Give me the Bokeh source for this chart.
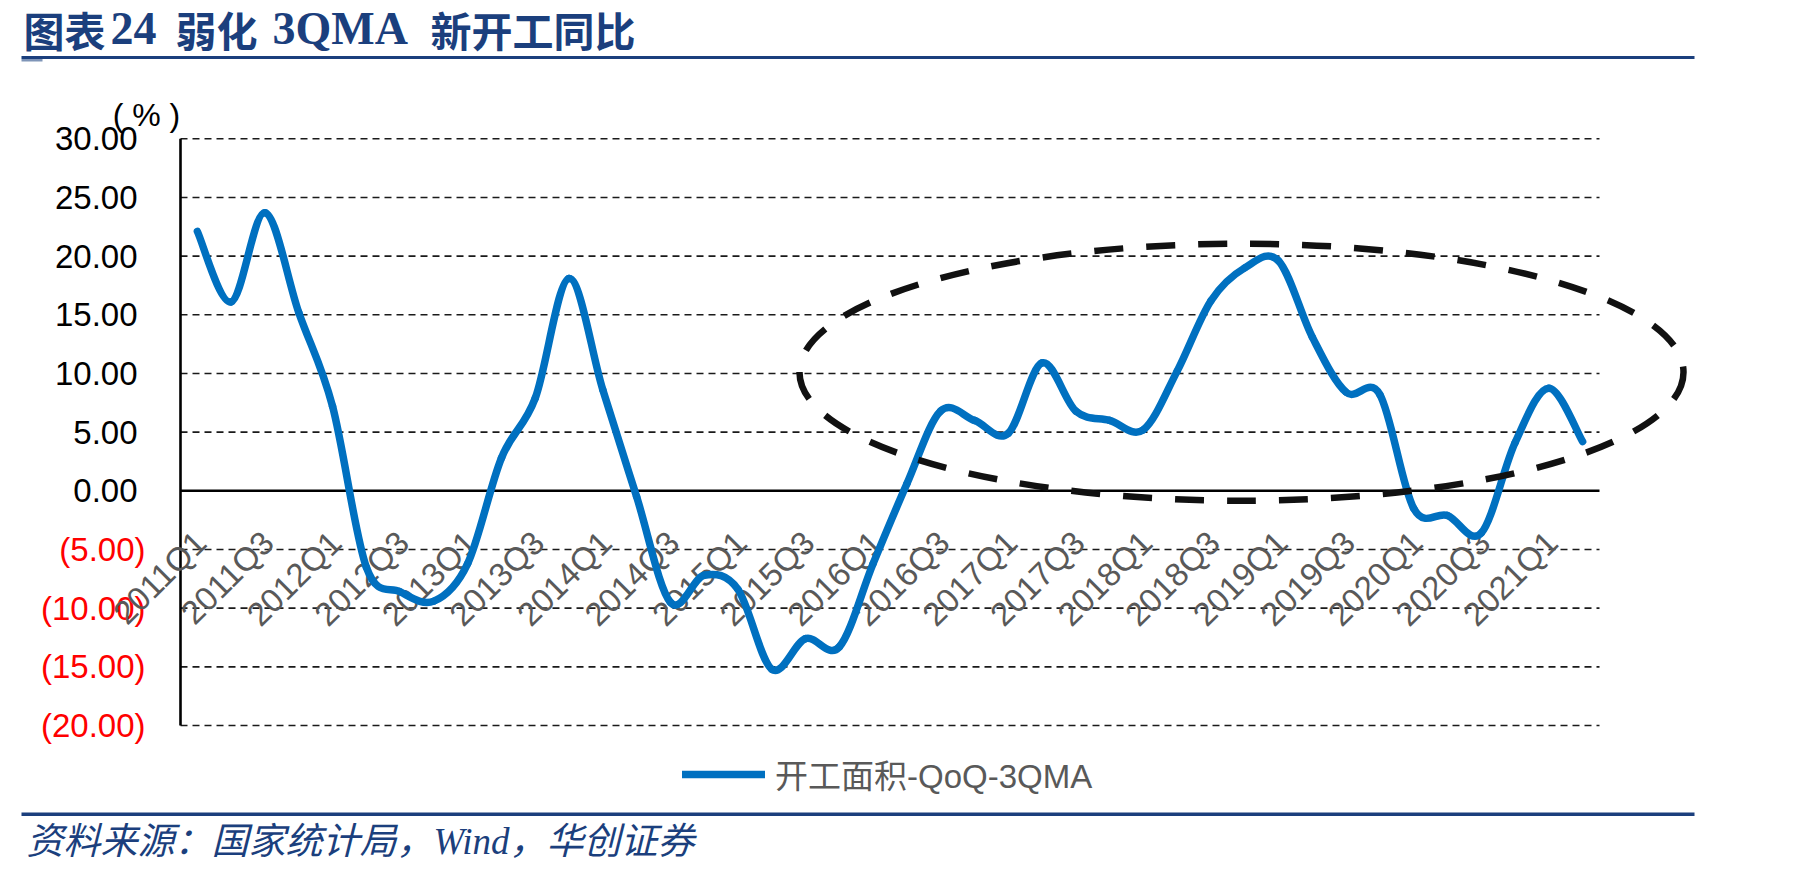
import math
import numpy as np
from bokeh.plotting import figure
from bokeh.models import Range1d, Legend, LegendItem, BoxAnnotation, Label
from bokeh.core.properties import value
from bokeh.embed import file_html
from bokeh.resources import INLINE

# ---------------- data ----------------
quarters = [f"{yr}Q{q}" for yr in range(2011, 2022) for q in (1, 2, 3, 4)][:42]

# 新开工面积 同比（季度移动平均, %）
start_area_qoq_3qma = [
    22.1, 16.1, 23.7, 15.2, 7.2, -6.5, -8.6, -9.4,
    -6.2, 2.8, 7.9, 18.1, 8.6, -0.5, -9.5, -7.2,
    -8.4, -15.2, -12.6, -13.3, -6.2, 0.6, 6.8, 6.0,
    4.9, 10.9, 6.8, 6.0, 5.2, 10.2, 16.2, 19.0,
    19.6, 13.1, 8.4, 8.2, -1.5, -2.1, -3.6, 4.1,
    8.75, 4.2,
]
series_name = "开工面积-QoQ-3QMA"
y_ticks = [30, 25, 20, 15, 10, 5, 0, -5, -10, -15, -20]

# title pieces: (text, left x in px, is latin)
title_parts = [("图表", 23, False), ("24", 110, True), ("弱化", 175, False),
               ("3QMA", 272, True), ("新开工同比", 430, False)]
source_text = "资料来源：国家统计局，Wind，华创证券"
unit_text = "( % )"

# ---------------- layout (pixels) ----------------
W, H = 1801, 873
PLOT_L, PLOT_R = 180, 1599
PLOT_T, PLOT_B = 138.3, 725
Y_MIN, Y_MAX = -20, 30
NAVY = "#1B3F7D"
BLUE = "#0070C0"

n = len(quarters)
x_lo, x_hi = -0.5, n - 0.5
sx = (PLOT_R - PLOT_L) / (x_hi - x_lo)
sy = (PLOT_B - PLOT_T) / (Y_MAX - Y_MIN)

x_range = Range1d(x_lo - PLOT_L / sx, x_hi + (W - PLOT_R) / sx)
y_range = Range1d(Y_MIN - (H - PLOT_B) / sy, Y_MAX + PLOT_T / sy)


def px_x(px):
    return x_lo + (px - PLOT_L) / sx


def px_y(py):
    return Y_MAX - (py - PLOT_T) / sy


p = figure(width=W, height=H, x_range=x_range, y_range=y_range,
           x_axis_location=None, y_axis_location=None,
           toolbar_location=None, output_backend="svg", min_border=0,
           outline_line_color=None, background_fill_color="white",
           border_fill_color="white")
p.xgrid.visible = False
p.ygrid.visible = False

# ---------------- grid & axes ----------------
grid_vals = [t for t in y_ticks if t != 0]
p.segment(x0=x_lo, x1=x_hi, y0=grid_vals, y1=grid_vals,
          line_color="#1a1a1a", line_width=1.6, line_dash="7 5")
p.segment(x0=x_lo, x1=x_hi, y0=0, y1=0, line_color="black", line_width=2.6)
p.segment(x0=x_lo, x1=x_lo, y0=Y_MIN, y1=Y_MAX, line_color="black", line_width=2.6)


def fmt(v):
    return f"{v:.2f}" if v >= 0 else f"({abs(v):.2f})"


pos_ticks = [t for t in y_ticks if t >= 0]
neg_ticks = [t for t in y_ticks if t < 0]
p.text(x=px_x(PLOT_L - 43), y=pos_ticks, text=[fmt(t) for t in pos_ticks],
       text_align="right", text_baseline="middle",
       text_font=value("Liberation Sans"), text_font_size="33px", text_color="black")
p.text(x=px_x(PLOT_L - 35), y=neg_ticks, text=[fmt(t) for t in neg_ticks],
       text_align="right", text_baseline="middle",
       text_font=value("Liberation Sans"), text_font_size="33px", text_color="#FF0000")

# category labels every other quarter, hanging below the zero line
lab_idx = list(range(0, n, 2))
p.text(x=[i + 3 / sx for i in lab_idx], y=-46 / sy, text=[quarters[i] for i in lab_idx],
       angle=math.pi / 4, text_align="right", text_baseline="middle",
       text_font=value("Liberation Sans"), text_font_size="33px", text_color="#595959")

# ---------------- smoothed series (Bezier through each point) ----------------
xs = np.arange(n, dtype=float)
ys = np.array(start_area_qoq_3qma, dtype=float)
xp = np.concatenate([[xs[0]], xs, [xs[-1]]])
yp = np.concatenate([[ys[0]], ys, [ys[-1]]])
P0x, P1x, P2x, P3x = xp[0:n - 1], xp[1:n], xp[2:n + 1], xp[3:n + 2]
P0y, P1y, P2y, P3y = yp[0:n - 1], yp[1:n], yp[2:n + 1], yp[3:n + 2]
line_r = p.bezier(x0=P1x, y0=P1y, x1=P2x, y1=P2y,
                  cx0=P1x + (P2x - P0x) / 6, cy0=P1y + (P2y - P0y) / 6,
                  cx1=P2x - (P3x - P1x) / 6, cy1=P2y - (P3y - P1y) / 6,
                  line_color=BLUE, line_width=7.5, line_cap="round", line_join="round")

# ---------------- highlight ellipse ----------------
ELL_CX, ELL_CY, ELL_W, ELL_H = 1241, 371.7, 884, 257
p.ellipse(x=px_x(ELL_CX), y=px_y(ELL_CY), width=ELL_W / sx, height=ELL_H / sy,
          fill_color=None, line_color="#111111", line_width=6.5, line_dash="29 23")

# ---------------- legend ----------------
legend = Legend(items=[LegendItem(label=series_name, renderers=[line_r])],
                location=(682, 75), orientation="horizontal",
                margin=0, padding=0, spacing=0,
                glyph_width=83, glyph_height=36, label_height=36, label_standoff=10,
                label_text_font="Liberation Sans, Noto Sans CJK SC",
                label_text_font_size="33px", label_text_color="#595959",
                border_line_color=None, background_fill_alpha=0)
p.add_layout(legend)

# ---------------- title, rules, source ----------------
for txt, left, latin in title_parts:
    p.add_layout(Label(x=px_x(left), y=px_y(28), text=txt,
                       text_font="Liberation Serif" if latin else "Noto Sans CJK SC",
                       text_font_size="46px" if latin else "41px",
                       text_font_style="bold", text_color=NAVY, text_baseline="middle"))
p.add_layout(BoxAnnotation(left=px_x(21), right=px_x(1694), top=px_y(55.5), bottom=px_y(58.5),
                           fill_color=NAVY, fill_alpha=1, line_color=None))
p.add_layout(BoxAnnotation(left=px_x(21), right=px_x(42), top=px_y(58.5), bottom=px_y(61),
                           fill_color="#7F95B8", fill_alpha=1, line_color=None))
p.add_layout(BoxAnnotation(left=px_x(21), right=px_x(1694), top=px_y(812), bottom=px_y(815.5),
                           fill_color=NAVY, fill_alpha=1, line_color=None))
p.add_layout(Label(x=px_x(26), y=px_y(841), text=source_text,
                   text_font="Liberation Serif, Noto Sans CJK SC", text_font_size="37px",
                   text_font_style="italic", text_color=NAVY, text_baseline="middle"))
p.add_layout(Label(x=px_x(146), y=px_y(114), text=unit_text,
                   text_font="Liberation Sans", text_font_size="32px",
                   text_color="black", text_align="center", text_baseline="middle"))

open("out.html", "w").write(file_html(p, INLINE))
